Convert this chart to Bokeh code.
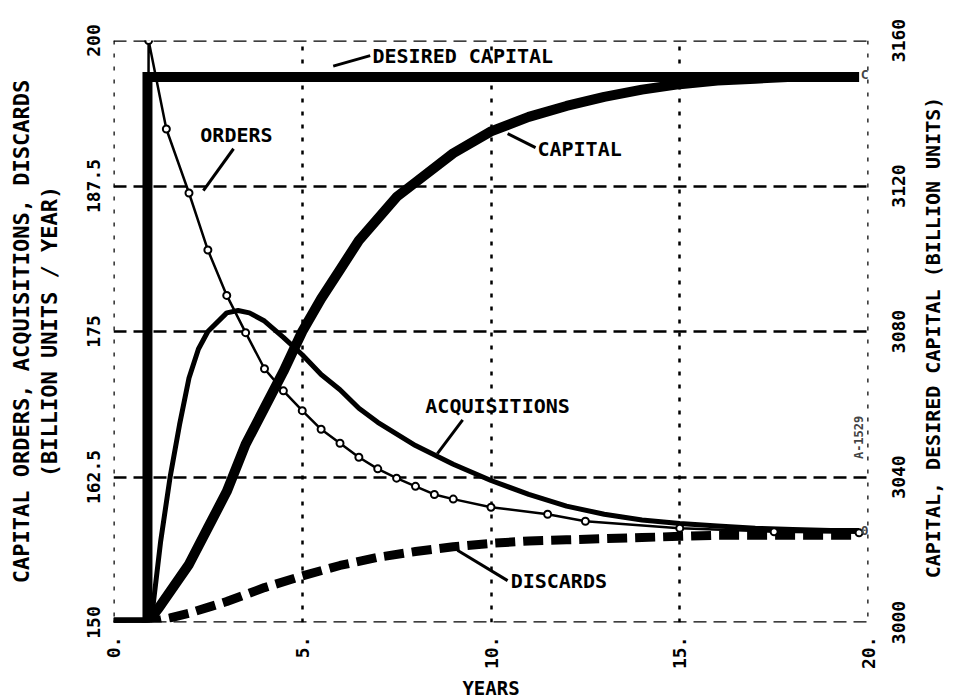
import math
from bokeh.plotting import figure
from bokeh.layouts import row
from bokeh.models import Range1d, LinearAxis, FixedTicker, Label, Span
from bokeh.embed import file_html
from bokeh.resources import INLINE

# ---------------- data ----------------
years_ticks = [0, 5, 10, 15, 20]
years_tick_labels = ["0.", "5.", "10.", "15.", "20."]
rate_ticks = [150, 162.5, 175, 187.5, 200]
rate_tick_labels = ["150", "162.5", "175", "187.5", "200"]
capital_ticks = [3000, 3040, 3080, 3120, 3160]
capital_tick_labels = ["3000", "3040", "3080", "3120", "3160"]

# capital orders (billion units / year)
orders_t = [0, 0.9, 0.93, 1.4, 2.0, 2.5, 3.0, 3.5, 4.0, 4.5, 5.0, 5.5, 6.0, 6.5,
            7.0, 7.5, 8.0, 8.5, 9.0, 10, 11.5, 12.5, 15, 17.5, 19.75]
orders = [150, 150, 200, 192.4, 186.9, 182.0, 178.1, 174.9, 171.8, 169.9, 168.2,
          166.6, 165.4, 164.2, 163.2, 162.4, 161.7, 161.0, 160.6, 159.9, 159.3,
          158.7, 158.1, 157.8, 157.7]

# acquisitions (billion units / year)
acq_t = [0, 0.9, 1.05, 1.25, 1.5, 1.75, 2.0, 2.25, 2.5, 3.0, 3.3, 3.6, 4.0, 4.5,
         5.0, 5.5, 6.0, 6.5, 7.0, 8.0, 9.0, 10, 11, 12, 13, 14, 15, 16, 17, 18, 19, 19.75]
acquisitions = [150, 150, 151.5, 157.0, 162.5, 167.0, 171.0, 173.5, 175.0, 176.6,
                176.8, 176.6, 175.9, 174.5, 173.0, 171.3, 170.0, 168.4, 167.2,
                165.2, 163.6, 162.2, 161.0, 160.0, 159.3, 158.8, 158.5, 158.3,
                158.1, 158.0, 157.9, 157.9]

# discards (billion units / year)
disc_t = [0, 0.9, 1.5, 2.0, 2.5, 3.0, 3.5, 4.0, 5.0, 6.0, 7.0, 8.0, 9.0, 10, 11,
          12, 13, 14, 15, 16, 17, 18, 19, 19.75]
discards = [150, 150, 150.4, 150.8, 151.3, 151.8, 152.4, 153.0, 154.0, 154.9,
            155.6, 156.1, 156.5, 156.8, 157.0, 157.1, 157.2, 157.3, 157.4, 157.5,
            157.5, 157.5, 157.5, 157.5]

# capital (billion units)
cap_t = [0, 0.9, 1.2, 1.6, 2.0, 2.5, 3.0, 3.5, 4.0, 4.5, 5.0, 5.5, 6.0, 6.5, 7.0,
         7.5, 8.0, 9.0, 10, 11, 12, 13, 14, 15, 16, 17, 18, 19, 19.75]
capital = [3000, 3000, 3004, 3010, 3016, 3026, 3036, 3049, 3059, 3069, 3080, 3089,
           3097, 3105, 3111, 3117, 3121, 3129, 3135, 3139, 3142, 3144.5, 3146.5,
           3148, 3149, 3149.5, 3150, 3150, 3150]

# desired capital (billion units)
desired_t = [0, 0.9, 0.9, 19.75]
desired = [3000, 3000, 3150, 3150]

# annotation text (x in years, y in left-axis units)
LABELS = [
    ("DESIRED CAPITAL", 6.86, 198.7),
    ("ORDERS", 2.30, 191.9),
    ("CAPITAL", 11.23, 190.7),
    ("ACQUISITIONS", 8.26, 168.6),
    ("DISCARDS", 10.52, 153.6),
]
LEADERS = [
    (5.82, 197.8, 6.80, 198.7),
    (3.18, 190.7, 2.38, 187.1),
    (11.18, 190.8, 10.44, 192.0),
    (9.25, 167.4, 8.58, 164.5),
    (10.44, 153.6, 9.11, 156.2),
]

FONT = "DejaVu Sans Mono"
LEFT_TITLE = "CAPITAL ORDERS, ACQUISITIONS, DISCARDS\n(BILLION UNITS / YEAR)"
RIGHT_TITLE = "CAPITAL, DESIRED CAPITAL  (BILLION UNITS)"

p = figure(frame_width=755, frame_height=582,
           x_range=Range1d(0, 20), y_range=Range1d(150, 200),
           output_backend="svg", toolbar_location=None,
           min_border_left=113, min_border_right=12,
           min_border_top=40, min_border_bottom=75)
p.extra_y_ranges = {"capital": Range1d(3000, 3160)}
p.outline_line_color = None
p.background_fill_color = "white"
p.border_fill_color = "white"

# grid
p.xgrid.ticker = FixedTicker(ticks=years_ticks)
p.ygrid.ticker = FixedTicker(ticks=rate_ticks)
p.xgrid.grid_line_color = "black"
p.xgrid.grid_line_width = 2.5
p.xgrid.grid_line_dash = "4 9"
p.ygrid.grid_line_color = "black"
p.ygrid.grid_line_width = 2.5
p.ygrid.grid_line_dash = "13 7"
for loc in (years_ticks[0], years_ticks[-1]):
    p.add_layout(Span(location=loc, dimension="height", line_color="black",
                      line_width=2.5, line_dash="4 9"))
for loc in (rate_ticks[0], rate_ticks[-1]):
    p.add_layout(Span(location=loc, dimension="width", line_color="black",
                      line_width=2.5, line_dash="13 7"))


def style_axis(ax, ticks, labels, standoff, orientation):
    ax.ticker = FixedTicker(ticks=ticks)
    ax.major_label_overrides = {k: v for k, v in zip(ticks, labels)}
    ax.major_label_orientation = orientation
    ax.major_tick_line_color = None
    ax.minor_tick_line_color = None
    ax.major_tick_out = 0
    ax.major_tick_in = 0
    ax.axis_line_color = None
    ax.major_label_standoff = standoff
    ax.major_label_text_font = FONT
    ax.major_label_text_font_style = "bold"
    ax.major_label_text_font_size = "18px"
    ax.major_label_text_color = "black"
    ax.axis_label_text_font = FONT
    ax.axis_label_text_font_style = "bold"
    ax.axis_label_text_font_size = "22px"
    ax.axis_label_text_color = "black"


# x axis
style_axis(p.xaxis[0], years_ticks, years_tick_labels, 14, math.pi / 2)
p.xaxis[0].axis_label = "YEARS"
p.xaxis[0].axis_label_text_font_size = "19px"
p.xaxis[0].axis_label_standoff = 5

# left axis
style_axis(p.yaxis[0], rate_ticks, rate_tick_labels, 14, "parallel")
p.yaxis[0].axis_label = LEFT_TITLE
p.yaxis[0].axis_label_standoff = 22
p.yaxis[0].axis_label_text_line_height = 1.1

# series
p.line(disc_t, discards, line_color="black", line_width=9, line_dash="20 8")
p.line(acq_t, acquisitions, line_color="black", line_width=5)
p.line(orders_t, orders, line_color="black", line_width=2.5)
p.scatter(orders_t[2:], orders[2:], marker="circle", size=7, fill_color="white",
          line_color="black", line_width=2)
p.line(cap_t, capital, y_range_name="capital", line_color="black", line_width=10)
p.line(desired_t, desired, y_range_name="capital", line_color="black",
       line_width=10, line_join="miter")

# annotations
for text, x, y in LABELS:
    p.add_layout(Label(x=x, y=y, text=text, text_font=FONT, text_font_style="bold",
                       text_font_size="20px", text_align="left",
                       text_baseline="middle", text_color="black"))
p.segment(x0=[l[0] for l in LEADERS], y0=[l[1] for l in LEADERS],
          x1=[l[2] for l in LEADERS], y1=[l[3] for l in LEADERS],
          line_color="black", line_width=3)
p.add_layout(Label(x=19.75, y=165.9, text="A-1529", angle=math.pi / 2,
                   text_font=FONT, text_font_style="bold", text_font_size="12px",
                   text_align="center", text_baseline="middle"))
p.add_layout(Label(x=19.9, y=197.1, text="C", text_font=FONT, text_font_style="bold",
                   text_font_size="13px", text_align="center", text_baseline="middle"))
p.add_layout(Label(x=19.9, y=157.9, text="0", text_font=FONT, text_font_style="bold",
                   text_font_size="13px", text_align="center", text_baseline="middle"))

# right-hand capital scale: a narrow companion figure sharing the frame height,
# whose left axes read bottom-to-top like the reference
p2 = figure(frame_width=1, frame_height=582,
            x_range=Range1d(0, 1), y_range=p.extra_y_ranges["capital"],
            output_backend="svg", toolbar_location=None, x_axis_location=None,
            min_border_left=64, min_border_right=0,
            min_border_top=40, min_border_bottom=75)
p2.grid.visible = False
p2.outline_line_color = None
p2.background_fill_color = "white"
p2.border_fill_color = "white"
ax_title = p2.yaxis[0]
style_axis(ax_title, [], [], 0, "parallel")
ax_title.major_label_text_font_size = "1px"
ax_title.axis_label = RIGHT_TITLE
ax_title.axis_label_text_font_size = "20px"
ax_title.axis_label_standoff = 0
ax_ticks = LinearAxis()
style_axis(ax_ticks, capital_ticks, capital_tick_labels, 13, "parallel")
p2.add_layout(ax_ticks, "left")

layout = row(p, p2)
open("out.html", "w").write(file_html(layout, INLINE))
